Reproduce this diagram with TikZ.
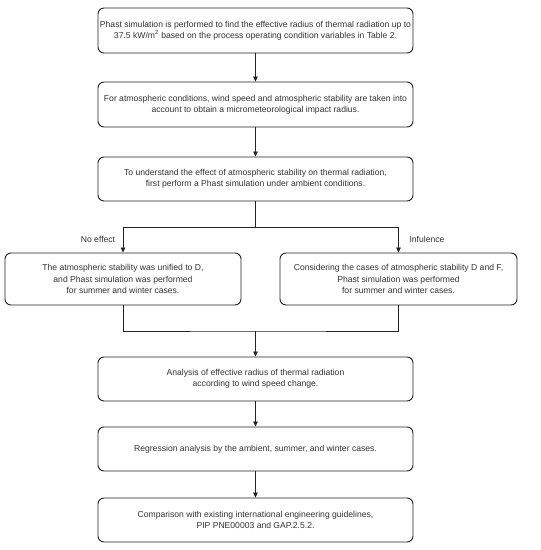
\documentclass[tikz,border=0pt]{standalone}
\usepackage{fontspec}
\setmainfont{Liberation Sans}
\usetikzlibrary{arrows.meta}
\definecolor{txt}{HTML}{333333}
\definecolor{ln}{HTML}{222222}
\begin{document}
\begin{tikzpicture}[x=1pt,y=-1pt,
  box/.style={draw=ln, line width=0.9pt, rounded corners=6pt, align=center,
    text=txt, font=\fontsize{8.6}{11.3}\selectfont, inner sep=0pt},
  mainbox/.style={box, minimum width=315pt, minimum height=45pt},
  sidebox/.style={box, minimum width=236pt, minimum height=52pt},
  arr/.style={draw=ln, line width=0.8pt, -{Triangle[length=5pt,width=4.5pt]}},
  ln/.style={draw=ln, line width=0.8pt},
  lab/.style={text=txt, font=\fontsize{8.6}{11.3}\selectfont, inner sep=0pt}]
\useasboundingbox[fill=white] (0,0) rectangle (541,550);
\node[mainbox] (b1) at (255.5,30.5) {Phast simulation is performed to find the effective radius of thermal radiation up to\\37.5 kW/m\textsuperscript{2} based on the process operating condition variables in Table 2.};
\node[mainbox] (b2) at (255.5,104.5) {For atmospheric conditions, wind speed and atmospheric stability are taken into\\account to obtain a micrometeorological impact radius.};
\node[mainbox, minimum height=44pt] (b3) at (255.5,179) {To understand the effect of atmospheric stability on thermal radiation,\\first perform a Phast simulation under ambient conditions.};
\node[sidebox] (l) at (123,279) {The atmospheric stability was unified to D,\\and Phast simulation was performed\\for summer and winter cases.};
\node[sidebox, minimum width=237pt] (r) at (398.5,279) {Considering the cases of atmospheric stability D and F,\\Phast simulation was performed\\for summer and winter cases.};
\node[mainbox, minimum height=44pt] (b4) at (255.5,379) {Analysis of effective radius of thermal radiation\\according to wind speed change.};
\node[mainbox, minimum height=44pt] (b5) at (255.5,449) {Regression analysis by the ambient, summer, and winter cases.};
\node[mainbox, minimum height=44pt] (b6) at (255.5,520) {Comparison with existing international engineering guidelines,\\PIP PNE00003 and GAP.2.5.2.};
\node[lab] (ne) at (98,239) {No effect};
\node[lab] (inf) at (427,239) {Infulence};
\coordinate (split) at (255.5,227);
\coordinate (merge) at (255.5,331);
\draw[arr] (b1) -- (b2);
\draw[arr] (b2) -- (b3);
\draw[ln] (b3) -- (split);
\draw[arr] (split) -| (l.north);
\draw[arr] (split) -| (r.north);
\draw[ln] (l.south) |- (merge) -| (r.south);
\draw[arr] (merge) -- (b4);
\draw[arr] (b4) -- (b5);
\draw[arr] (b5) -- (b6);
\end{tikzpicture}
\end{document}
